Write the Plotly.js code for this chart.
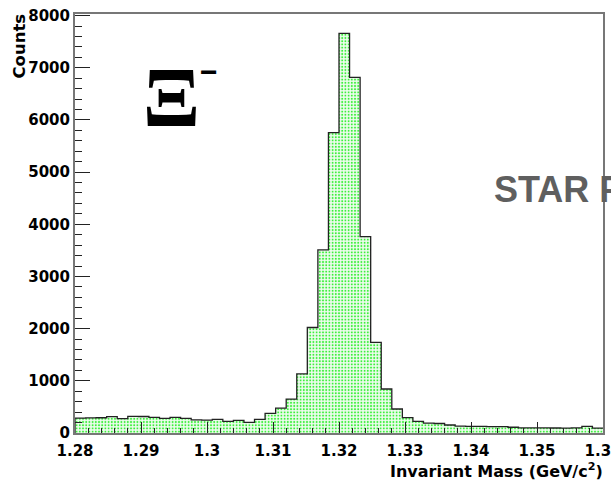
<!DOCTYPE html>
<html>
<head>
<meta charset="utf-8">
<script src="https://cdn.plot.ly/plotly-3.0.1.min.js"></script>
<style>html,body{margin:0;padding:0;background:#fff;}#chart{width:611px;height:480px;}</style>
</head>
<body>
<div id="chart"></div>
<script>
// Histogram: 50 bins from 1.28 to 1.36 GeV/c^2
var massStart = 1.28;
var binWidth = 0.0016;
var counts = [
  285, 290, 292, 312, 276, 318, 316, 299, 281, 299,
  281, 250, 248, 260, 222, 241, 203, 260, 378, 475,
  651, 1134, 2022, 3510, 5757, 7660, 6817, 3765, 1735, 843,
  460, 296, 222, 188, 182, 153, 130, 128, 126, 124,
  122, 110, 100, 98, 98, 96, 95, 98, 126, 92
];
var xTickVals = [1.28, 1.29, 1.30, 1.31, 1.32, 1.33, 1.34, 1.35, 1.36];
var xTickText = ['1.28', '1.29', '1.3', '1.31', '1.32', '1.33', '1.34', '1.35', '1.36'];
var yTickVals = [0, 1000, 2000, 3000, 4000, 5000, 6000, 7000, 8000];
var yTickText = ['0', '1000', '2000', '3000', '4000', '5000', '6000', '7000', '8000'];

var centers = counts.map(function (c, i) { return massStart + (i + 0.5) * binWidth; });
var edgesX = [massStart], edgesY = [0];
counts.forEach(function (c, i) { edgesX.push(massStart + i * binWidth); edgesY.push(c); });
edgesX.push(massStart + counts.length * binWidth); edgesY.push(counts[counts.length - 1]);

var bars = {
  type: 'bar', x: centers, y: counts, width: binWidth,
  marker: {
    color: '#eafcea',
    line: {width: 0},
    pattern: {shape: '.', fgcolor: '#3cf03c', bgcolor: '#eefcee', size: 3.2, solidity: 0.3}
  },
  hoverinfo: 'skip', showlegend: false
};
var outline = {
  type: 'scatter', mode: 'lines', x: edgesX, y: edgesY,
  line: {shape: 'hv', color: '#222222', width: 1.3},
  hoverinfo: 'skip', showlegend: false
};

var tickFont = {family: 'DejaVu Sans', size: 15, color: '#000', weight: 'bold'};
var PX = function (px) { return (px - 75) / 528; };
var PY = function (py) { return (433 - py) / 419; };

var layout = {
  width: 611, height: 480,
  margin: {l: 75, r: 8, t: 14, b: 47},
  paper_bgcolor: '#ffffff', plot_bgcolor: '#ffffff',
  bargap: 0,
  xaxis: {
    range: [1.28, 1.36], showgrid: false, zeroline: false,
    showline: true, linecolor: '#777777', linewidth: 2, mirror: true,
    tickmode: 'array', tickvals: xTickVals, ticktext: xTickText,
    ticks: 'inside', ticklen: 11, tickwidth: 1, tickcolor: '#222222',
    minor: {tickmode: 'linear', tick0: 1.28, dtick: 0.002, ticks: 'inside', ticklen: 5, tickwidth: 1, tickcolor: '#222222', showgrid: false},
    tickfont: tickFont, ticklabeloverflow: 'allow', ticklabelstandoff: 3
  },
  yaxis: {
    range: [0, 8030], showgrid: false, zeroline: false,
    showline: true, linecolor: '#777777', linewidth: 2, mirror: true,
    tickmode: 'array', tickvals: yTickVals, ticktext: yTickText,
    ticks: 'inside', ticklen: 15, tickwidth: 1, tickcolor: '#222222',
    minor: {tickmode: 'linear', tick0: 0, dtick: 200, ticks: 'inside', ticklen: 7, tickwidth: 1, tickcolor: '#222222', showgrid: false},
    tickfont: tickFont, ticklabeloverflow: 'allow'
  },
  annotations: [
    {xref: 'paper', yref: 'paper', x: PX(19), y: PY(12), xanchor: 'center', yanchor: 'top',
     text: 'Counts', textangle: -90, showarrow: false,
     font: {family: 'DejaVu Sans', size: 16.5, color: '#000', weight: 'bold'}},
    {xref: 'paper', yref: 'paper', x: PX(605), y: PY(470), xanchor: 'right', yanchor: 'middle',
     text: 'Invariant Mass (GeV/c<sup>2</sup>)', showarrow: false,
     font: {family: 'DejaVu Sans', size: 16, color: '#000', weight: 'bold'}},
    {xref: 'paper', yref: 'paper', x: PX(492), y: PY(190), xanchor: 'left', yanchor: 'middle',
     text: 'STAR Preliminary', showarrow: false,
     font: {family: 'Liberation Sans', size: 36, color: '#5f5f5f', weight: 'bold'}},
    {xref: 'paper', yref: 'paper', x: PX(171.5), y: PY(97), xanchor: 'center', yanchor: 'middle',
     text: 'Ξ', showarrow: false,
     font: {family: 'Liberation Serif', size: 84, color: '#000', weight: 'bold'}},
    {xref: 'paper', yref: 'paper', x: PX(209), y: PY(71), xanchor: 'center', yanchor: 'middle',
     text: '−', showarrow: false,
     font: {family: 'Liberation Sans', size: 30, color: '#000', weight: 'bold'}}
  ]
};

Plotly.newPlot('chart', [bars, outline], layout, {displayModeBar: false, staticPlot: true});
</script>
</body>
</html>
